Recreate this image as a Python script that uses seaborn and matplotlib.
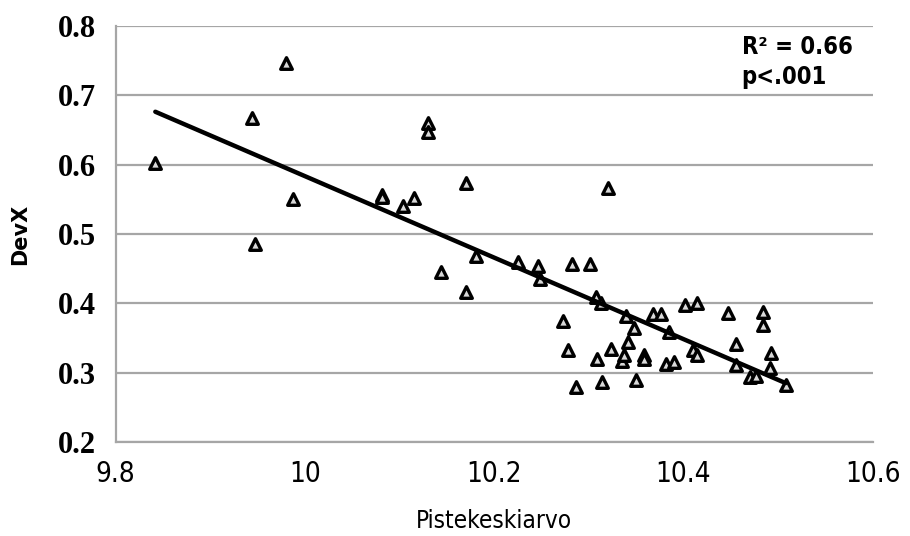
import matplotlib
matplotlib.use('Agg')
import warnings
warnings.filterwarnings("ignore")

import numpy as np
import pandas as pd
import matplotlib.pyplot as plt
import seaborn as sns

# ==========================================
# DATA
# ==========================================
pistekeskiarvo = [
    9.842, 9.944, 9.947, 9.980, 9.988, 10.081, 10.082, 10.104, 10.115, 10.130,
    10.130, 10.144, 10.170, 10.170, 10.181, 10.225, 10.246, 10.248, 10.273, 10.278,
    10.282, 10.287, 10.301, 10.308, 10.313, 10.309, 10.314, 10.320, 10.324, 10.335,
    10.337, 10.339, 10.341, 10.348, 10.350, 10.358, 10.358, 10.368, 10.376, 10.382,
    10.385, 10.390, 10.402, 10.410, 10.414, 10.414, 10.447, 10.456, 10.456, 10.470,
    10.477, 10.484, 10.484, 10.491, 10.493, 10.508,
]
devx = [
    0.603, 0.668, 0.485, 0.746, 0.551, 0.556, 0.553, 0.541, 0.552, 0.660,
    0.647, 0.445, 0.573, 0.416, 0.468, 0.460, 0.454, 0.435, 0.375, 0.332,
    0.457, 0.280, 0.457, 0.409, 0.401, 0.320, 0.287, 0.567, 0.334, 0.317,
    0.325, 0.381, 0.344, 0.364, 0.290, 0.325, 0.320, 0.384, 0.384, 0.312,
    0.359, 0.316, 0.397, 0.332, 0.400, 0.325, 0.386, 0.342, 0.311, 0.294,
    0.295, 0.388, 0.369, 0.306, 0.328, 0.282,
]
x_ticks = [9.8, 10.0, 10.2, 10.4, 10.6]
x_tick_labels = ["9.8", "10", "10.2", "10.4", "10.6"]
y_ticks = [0.2, 0.3, 0.4, 0.5, 0.6, 0.7, 0.8]
stats_text = ["R² = 0.66", "p<.001"]

df = pd.DataFrame({"Pistekeskiarvo": pistekeskiarvo, "DevX": devx})

# ==========================================
# PLOT
# ==========================================
sns.set_style("white")
plt.rcParams["text.color"] = "black"
plt.rcParams["axes.labelcolor"] = "black"
grid_col = "#a6a6a6"
narrow = {"family": "DejaVu Sans", "stretch": "condensed"}

fig = plt.figure(figsize=(9.1, 5.36), dpi=100)
ax = fig.add_axes([0.127, 0.1754, 0.832, 0.7761])

sns.regplot(
    data=df, x="Pistekeskiarvo", y="DevX", ax=ax, ci=None,
    marker="^",
    scatter_kws={"s": 70, "facecolor": "#d9d9d9", "edgecolor": "black",
                 "linewidths": 2.4, "alpha": 1, "zorder": 3},
    line_kws={"color": "black", "linewidth": 3.2, "zorder": 4},
)

ax.set_xlim(9.8, 10.6)
ax.set_ylim(0.2, 0.8)
ax.set_xticks(x_ticks)
ax.set_xticklabels(x_tick_labels, fontsize=20, **narrow)
ax.set_yticks(y_ticks)
ax.set_yticklabels([f"{v:.1f}" for v in y_ticks], family="Liberation Serif",
                   fontweight="bold", fontsize=22)

ax.yaxis.grid(True, color=grid_col, linewidth=1.6)
ax.set_axisbelow(True)
for side in ["top", "right"]:
    ax.spines[side].set_visible(False)
for side in ["left", "bottom"]:
    ax.spines[side].set_color(grid_col)
    ax.spines[side].set_linewidth(1.6)
ax.tick_params(axis="both", direction="out", length=6, width=1.4, color=grid_col,
               labelcolor="black", pad=8)
ax.tick_params(axis="x", pad=7)

ax.set_xlabel("Pistekeskiarvo", fontsize=17.5, labelpad=15, **narrow)
ax.set_ylabel("DevX", fontsize=15, fontweight="bold")
ax.yaxis.set_label_coords(-0.113, 0.5)

ax.text(0.827, 0.949, stats_text[0], transform=ax.transAxes, fontsize=17,
        fontweight="bold", va="center", ha="left", **narrow)
ax.text(0.827, 0.877, stats_text[1], transform=ax.transAxes, fontsize=17,
        fontweight="bold", va="center", ha="left", **narrow)

fig.savefig("out.png", dpi=100)
plt.close(fig)
